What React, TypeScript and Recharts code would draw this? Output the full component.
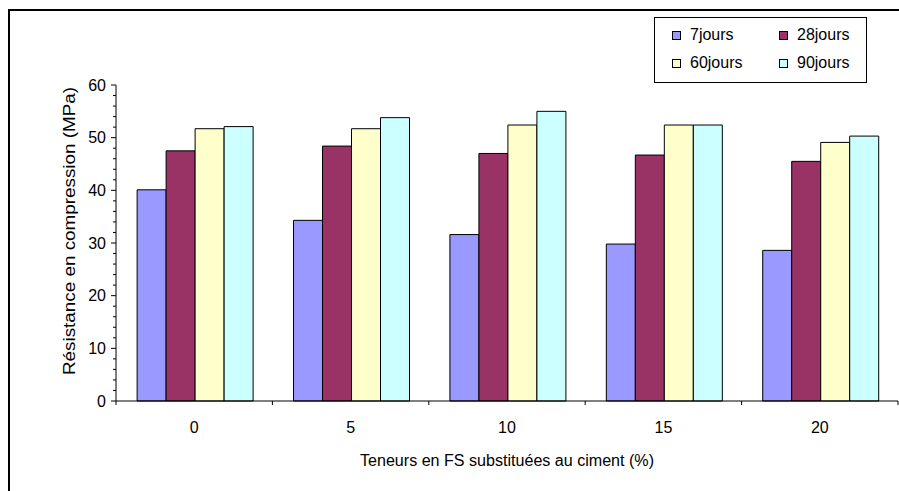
import React from 'react';
import { BarChart, Bar, XAxis, YAxis, Legend } from 'recharts';

// Compressive strength per FS substitution rate, at four curing ages
const CATEGORIES = ['0', '5', '10', '15', '20'];
const J7 = [40.1, 34.3, 31.6, 29.8, 28.6];
const J28 = [47.5, 48.4, 47.0, 46.7, 45.5];
const J60 = [51.7, 51.7, 52.4, 52.4, 49.1];
const J90 = [52.1, 53.8, 55.0, 52.4, 50.3];

const SERIES = [
  { key: 'j7', name: '7jours', values: J7, color: '#9999FF' },
  { key: 'j28', name: '28jours', values: J28, color: '#993366' },
  { key: 'j60', name: '60jours', values: J60, color: '#FFFFCC' },
  { key: 'j90', name: '90jours', values: J90, color: '#CCFFFF' },
];

const Y_TICKS = Array.from({ length: 31 }, (_, i) => i * 2);

const W = 899;
const H = 491;
const MARGIN = { top: 85, right: 1, left: 56, bottom: 60 };
const Y_AXIS_W = 60;
const X_AXIS_H = 30;
const PLOT_W = W - MARGIN.left - MARGIN.right - Y_AXIS_W;
const BAND = PLOT_W / CATEGORIES.length;

const FONT = '"Liberation Sans", Arial, sans-serif';

const data = CATEGORIES.map((c, i) => {
  const row: Record<string, string | number> = { cat: c };
  SERIES.forEach((s) => {
    row[s.key] = s.values[i];
  });
  return row;
});

// y ticks: major every 10 with a label, minor every 2
// eslint-disable-next-line @typescript-eslint/no-explicit-any
const renderYTick = (props: any) => {
  const { x, y, payload } = props;
  const major = payload.value % 10 === 0;
  return (
    <g>
      <line x1={x - (major ? 5 : 3)} y1={y} x2={x} y2={y} stroke="#000" strokeWidth={1} />
      {major && (
        <text x={x - 10} y={y} textAnchor="end" dominantBaseline="central" fontSize={16} fontFamily={FONT} fill="#000">
          {payload.value}
        </text>
      )}
    </g>
  );
};

// x ticks sit between categories, labels at the centre
// eslint-disable-next-line @typescript-eslint/no-explicit-any
const renderXTick = (props: any) => {
  const { x, y, payload, index } = props;
  const left = x - BAND / 2;
  return (
    <g>
      <line x1={left} y1={y} x2={left} y2={y + 4} stroke="#000" strokeWidth={1} />
      {index === CATEGORIES.length - 1 && (
        <line x1={x + BAND / 2} y1={y} x2={x + BAND / 2} y2={y + 4} stroke="#000" strokeWidth={1} />
      )}
      <text x={x} y={y + 26} textAnchor="middle" dominantBaseline="central" fontSize={16} fontFamily={FONT} fill="#000">
        {payload.value}
      </text>
    </g>
  );
};

// eslint-disable-next-line @typescript-eslint/no-explicit-any
const renderXTitle = (props: any) => {
  const { x, y, width } = props.viewBox;
  return (
    <text
      x={x + width / 2}
      y={y + 59}
      textAnchor="middle"
      dominantBaseline="central"
      fontSize={16}
      fontFamily={FONT}
      fill="#000"
      textLength={294}
      lengthAdjust="spacingAndGlyphs"
    >
      Teneurs en FS substituées au ciment (%)
    </text>
  );
};

// eslint-disable-next-line @typescript-eslint/no-explicit-any
const renderYTitle = (props: any) => {
  const { x, y, height } = props.viewBox;
  const cx = x + 13;
  const cy = y + height / 2 - 12;
  return (
    <text
      x={cx}
      y={cy}
      transform={`rotate(-90, ${cx}, ${cy})`}
      textAnchor="middle"
      dominantBaseline="central"
      fontSize={16}
      fontFamily={FONT}
      fill="#000"
      textLength={288}
      lengthAdjust="spacingAndGlyphs"
    >
      Résistance en compression (MPa)
    </text>
  );
};

// boxed two-column legend, series in their own order
const renderLegend = () => (
  <div
    style={{
      position: 'relative',
      width: 213,
      height: 66,
      border: '1px solid #000',
      boxSizing: 'border-box',
      background: '#fff',
      fontFamily: FONT,
      fontSize: 16,
    }}
  >
    {SERIES.map((s, i) => {
      const col = i % 2;
      const row = Math.floor(i / 2);
      return (
        <div
          key={s.key}
          style={{
            position: 'absolute',
            left: col === 0 ? 17 : 124,
            top: row === 0 ? 7 : 35,
            height: 20,
            display: 'flex',
            alignItems: 'center',
            whiteSpace: 'nowrap',
          }}
        >
          <span
            style={{
              display: 'inline-block',
              width: 7,
              height: 7,
              background: s.color,
              border: '1px solid #000',
              marginRight: 9,
            }}
          />
          <span style={{ color: '#000' }}>{s.name}</span>
        </div>
      );
    })}
  </div>
);

export default function App() {
  return (
    <div style={{ position: 'absolute', left: 0, top: 0, width: W, height: H, background: '#fff', overflow: 'hidden' }}>
      <div
        style={{
          position: 'absolute',
          left: 8,
          top: 9,
          width: W,
          height: H,
          borderLeft: '2px solid #000',
          borderTop: '2px solid #000',
        }}
      />
      <div style={{ position: 'absolute', left: 0, top: 0 }}>
        <BarChart width={W} height={H} data={data} margin={MARGIN} barCategoryGap="13.5%" barGap={0}>
          <XAxis
            dataKey="cat"
            height={X_AXIS_H}
            tickSize={0}
            tickMargin={0}
            tickLine={false}
            axisLine={{ stroke: '#000', strokeWidth: 1 }}
            tick={renderXTick}
            interval={0}
            label={{ content: renderXTitle }}
          />
          <YAxis
            width={Y_AXIS_W}
            domain={[0, 60]}
            ticks={Y_TICKS}
            interval={0}
            tickSize={0}
            tickMargin={0}
            tickLine={false}
            axisLine={{ stroke: '#000', strokeWidth: 1 }}
            tick={renderYTick}
            label={{ content: renderYTitle }}
          />
          <Legend
            layout="horizontal"
            verticalAlign="middle"
            align="center"
            content={renderLegend}
            wrapperStyle={{ left: 654, top: 17, width: 213, height: 66 }}
          />
          {SERIES.map((s) => (
            <Bar
              key={s.key}
              dataKey={s.key}
              name={s.name}
              fill={s.color}
              stroke="#000"
              strokeWidth={1}
              isAnimationActive={false}
            />
          ))}
        </BarChart>
      </div>
    </div>
  );
}
